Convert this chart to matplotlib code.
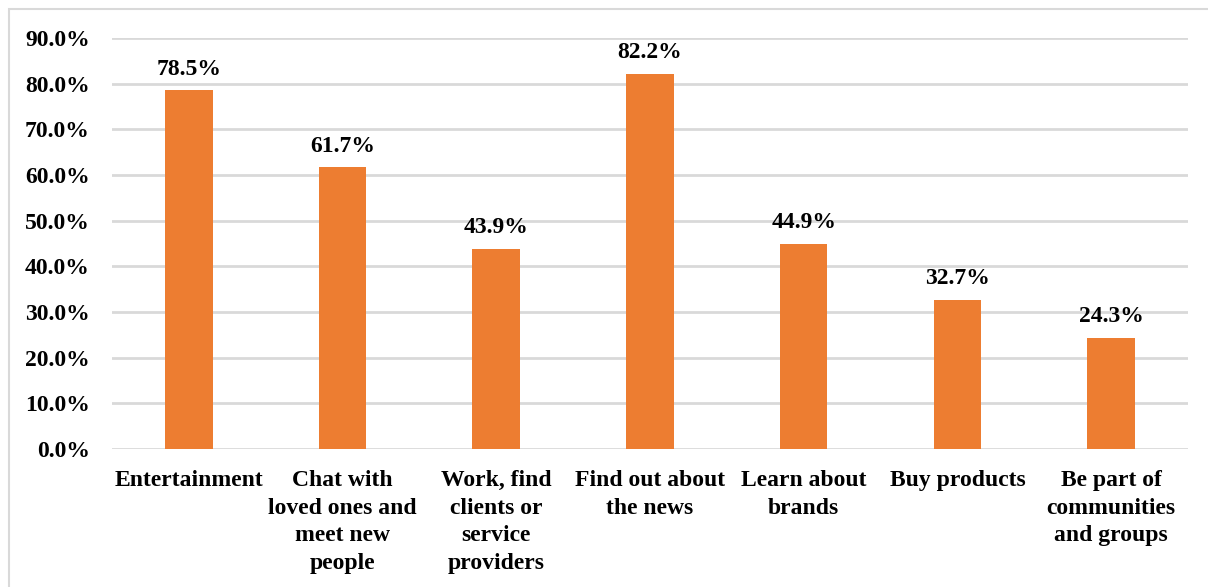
import matplotlib
matplotlib.use("Agg")
import matplotlib.pyplot as plt
from matplotlib.patches import Rectangle
from matplotlib.ticker import FuncFormatter, MultipleLocator

categories = [
    "Entertainment",
    "Chat with\nloved ones and\nmeet new\npeople",
    "Work, find\nclients or\nservice\nproviders",
    "Find out about\nthe news",
    "Learn about\nbrands",
    "Buy products",
    "Be part of\ncommunities\nand groups",
]
values = [78.5, 61.7, 43.9, 82.2, 44.9, 32.7, 24.3]

plt.rcParams["font.family"] = ["Liberation Serif", "DejaVu Serif"]
plt.rcParams["font.weight"] = "bold"

fig = plt.figure(figsize=(12.08, 5.87), dpi=100)
ax = fig.add_axes([0.0927, 0.2351, 0.8907, 0.7002])

bar_color = "#ED7D31"
x = range(len(categories))
ax.bar(x, values, width=0.31, color=bar_color, zorder=3)

for xi, v in zip(x, values):
    ax.text(xi, v + 3.4, f"{v:.1f}%", ha="center", va="baseline",
            fontsize=17, fontweight="bold", color="black")

ax.set_ylim(0, 90)
ax.set_xlim(-0.5, len(categories) - 0.5)
ax.yaxis.set_major_locator(MultipleLocator(10))
ax.yaxis.set_major_formatter(FuncFormatter(lambda v, p: f"{v:.1f}%"))
ax.grid(axis="y", color="#D9D9D9", linewidth=2.0, zorder=0)
for s in ax.spines.values():
    s.set_visible(False)
ax.tick_params(axis="both", length=0, labelsize=17)
ax.tick_params(axis="x", pad=15)
ax.tick_params(axis="y", pad=16)
ax.set_xticks(list(x))
ax.set_xticklabels(categories, fontweight="bold", linespacing=1.42, va="top")
for lbl in ax.get_yticklabels():
    lbl.set_fontweight("bold")

# light chart frame
fig.patches.append(Rectangle((9 / 1208, -0.1), 1.2, 1 - 9 / 587 + 0.1,
                             transform=fig.transFigure, fill=False,
                             edgecolor="#D9D9D9", linewidth=1.5))

fig.savefig("out.png", dpi=100, facecolor="white")
